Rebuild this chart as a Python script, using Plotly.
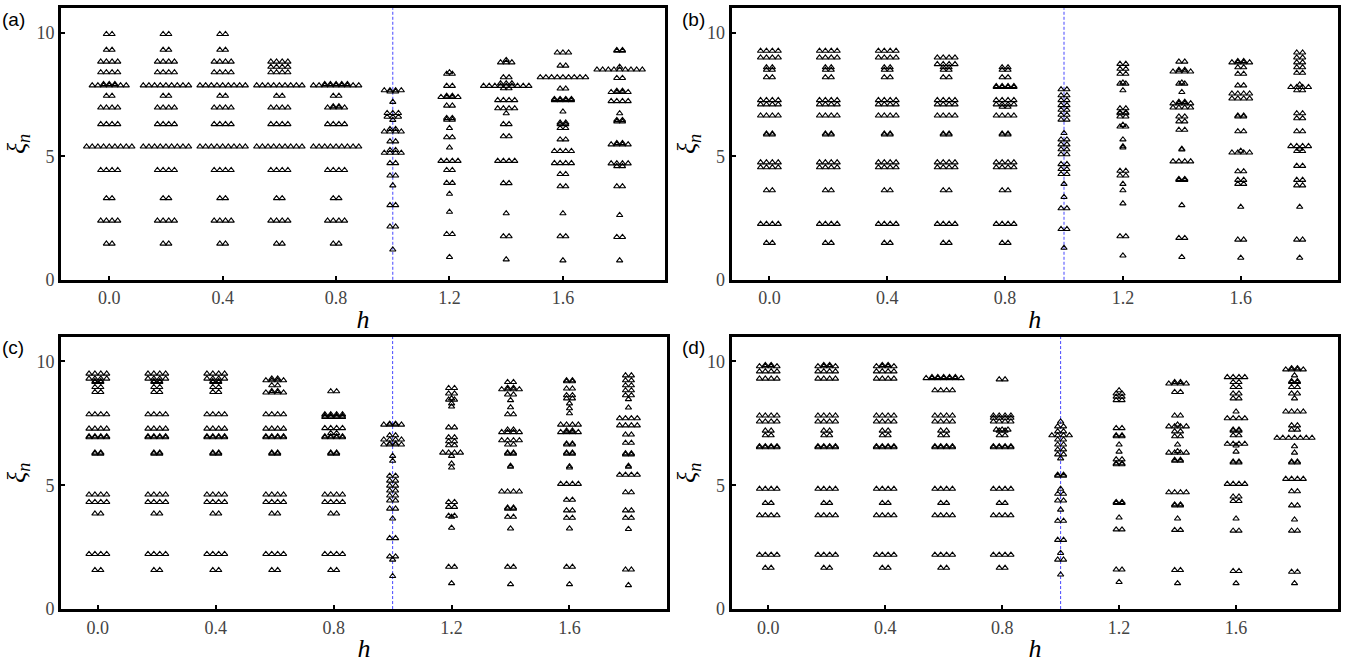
import plotly.graph_objects as go

H = [0.0, 0.2, 0.4, 0.6, 0.8, 1.0, 1.2, 1.4, 1.6, 1.8]
XTICKS = [0.0, 0.4, 0.8, 1.2, 1.6]
XTICK_TEXT = ["0.0", "0.4", "0.8", "1.2", "1.6"]
YTICKS = [0, 5, 10]
YTICK_TEXT = ["0", "5", "10"]
H_CRIT = 1.0
DX = 0.02  # horizontal spread between degenerate levels

# ---------------- panel (a) ----------------
LEV_A = [
    [9.95, 9.31, 8.83, 8.40, 7.87, 7.92, 7.45, 6.97, 6.30, 5.39, 4.44, 3.30, 2.39, 1.46],
    [9.95, 9.31, 8.83, 8.40, 7.87, 7.45, 6.97, 6.30, 5.39, 4.44, 3.30, 2.39, 1.46],
    [9.95, 9.31, 8.83, 8.40, 7.87, 7.45, 6.97, 6.30, 5.39, 4.44, 3.30, 2.39, 1.46],
    [8.83, 8.62, 8.40, 7.87, 7.45, 6.97, 6.30, 5.39, 4.44, 3.30, 2.39, 1.46],
    [7.87, 7.92, 7.45, 6.97, 7.02, 6.30, 5.39, 4.44, 3.30, 2.39, 1.46],
    [7.67, 7.62, 7.20, 6.75, 6.60, 6.47, 6.00, 6.10, 5.60, 5.14, 5.25, 4.72, 4.22, 3.82, 3.02, 2.15, 1.22],
    [8.34, 8.40, 7.85, 7.40, 7.45, 7.05, 6.48, 6.55, 6.14, 5.77, 5.35, 4.81, 4.44, 3.92, 3.48, 2.75, 1.85, 0.92],
    [8.80, 8.90, 8.20, 7.85, 7.95, 7.75, 7.27, 6.94, 6.74, 6.30, 5.81, 4.81, 3.91, 2.69, 1.76, 0.82],
    [9.20, 8.67, 8.20, 7.74, 7.27, 7.32, 6.81, 6.30, 6.36, 6.14, 5.68, 5.21, 4.72, 4.28, 3.78, 2.69, 1.76, 0.78],
    [9.27, 9.30, 8.51, 8.62, 8.17, 7.60, 7.65, 7.23, 6.74, 6.41, 6.47, 5.48, 5.53, 4.71, 4.60, 3.78, 2.62, 1.73, 0.78],
]
DEG_A = [
    [2, 2, 4, 4, 7, 3, 2, 4, 4, 9, 4, 2, 4, 2],
    [2, 2, 4, 4, 9, 2, 4, 4, 9, 4, 2, 4, 2],
    [2, 2, 4, 4, 9, 2, 4, 4, 9, 4, 2, 4, 2],
    [4, 4, 4, 9, 2, 4, 4, 9, 4, 2, 4, 2],
    [9, 5, 2, 4, 2, 4, 9, 4, 2, 4, 2],
    [4, 2, 1, 3, 3, 1, 4, 2, 2, 4, 2, 2, 2, 1, 2, 2, 1],
    [2, 1, 2, 4, 2, 2, 2, 2, 1, 2, 1, 4, 2, 2, 1, 1, 2, 1],
    [3, 1, 2, 9, 3, 2, 4, 4, 1, 2, 2, 4, 2, 1, 2, 1],
    [3, 2, 9, 2, 4, 4, 1, 2, 2, 2, 2, 4, 4, 2, 2, 1, 2, 1],
    [2, 2, 9, 1, 2, 4, 2, 4, 1, 2, 2, 4, 2, 4, 2, 2, 1, 2, 1],
]

# ---------------- panel (b) ----------------
_B0 = [9.27, 9.00, 8.60, 8.50, 8.20, 7.27, 7.10, 6.65, 5.88, 5.92, 4.75, 4.55, 3.62, 2.26, 1.49]
_B0D = [4, 4, 2, 2, 2, 4, 4, 4, 2, 2, 4, 4, 2, 4, 2]
LEV_B = [
    _B0, _B0, _B0,
    [9.00, 8.73, 8.60, 8.50, 8.20, 7.27, 7.10, 6.65, 5.88, 5.92, 4.75, 4.55, 3.62, 2.26, 1.49],
    [8.60, 8.50, 8.20, 7.80, 7.84, 7.27, 7.10, 7.00, 6.65, 5.88, 5.92, 4.75, 4.55, 3.62, 2.26, 1.49],
    [7.71, 7.47, 7.27, 7.07, 6.88, 6.68, 6.48, 5.94, 5.68, 5.48, 5.28, 5.08, 4.68, 4.48, 4.28, 3.88, 3.35, 2.89, 2.05, 1.29],
    [8.74, 8.54, 8.34, 7.94, 7.98, 7.67, 6.94, 6.74, 6.78, 6.61, 6.20, 6.27, 5.68, 5.35, 5.40, 4.41, 4.22, 3.88, 3.62, 3.09, 1.76, 0.98],
    [8.83, 8.43, 8.50, 7.94, 7.98, 7.60, 7.14, 7.20, 6.97, 6.61, 6.41, 6.07, 5.27, 5.30, 4.79, 4.04, 4.08, 3.02, 1.69, 0.92],
    [8.80, 8.85, 8.60, 8.34, 7.87, 7.54, 7.34, 6.61, 6.65, 6.01, 5.15, 5.22, 4.39, 4.04, 3.88, 2.95, 1.62, 0.89],
    [9.20, 9.00, 8.80, 8.60, 8.38, 7.80, 7.90, 7.67, 6.74, 6.54, 6.01, 5.41, 5.21, 5.30, 4.61, 4.04, 3.82, 2.95, 1.62, 0.89],
]
DEG_B = [
    _B0D, _B0D, _B0D,
    [4, 4, 2, 2, 2, 4, 4, 4, 2, 2, 4, 4, 2, 4, 2],
    [2, 2, 2, 4, 4, 4, 4, 2, 4, 2, 2, 4, 4, 2, 4, 2],
    [2, 2, 2, 2, 2, 2, 2, 1, 2, 2, 2, 2, 2, 2, 2, 1, 1, 2, 2, 1],
    [2, 2, 2, 2, 1, 1, 2, 2, 2, 2, 2, 1, 1, 1, 1, 2, 2, 1, 1, 1, 2, 1],
    [2, 4, 2, 2, 1, 1, 4, 2, 4, 2, 2, 2, 1, 1, 4, 2, 2, 1, 2, 1],
    [4, 2, 2, 2, 2, 4, 4, 2, 2, 2, 4, 1, 2, 2, 2, 1, 2, 1],
    [2, 2, 2, 2, 2, 4, 1, 2, 2, 2, 2, 4, 2, 1, 2, 2, 2, 1, 2, 1],
]

# ---------------- panel (c) ----------------
_C0 = [9.50, 9.30, 9.16, 9.20, 8.96, 8.76, 7.86, 7.28, 6.93, 6.97, 6.27, 6.31, 4.62, 4.32, 3.85, 2.22, 1.57]
_C0D = [4, 4, 2, 2, 2, 2, 4, 4, 4, 4, 2, 2, 4, 4, 2, 4, 2]
LEV_C = [
    _C0, _C0, _C0,
    [9.23, 9.30, 9.03, 8.74, 8.80, 7.86, 7.28, 6.93, 6.97, 6.27, 6.31, 4.62, 4.32, 3.85, 2.22, 1.57],
    [8.79, 7.86, 7.75, 7.80, 7.30, 7.10, 6.93, 6.97, 6.27, 6.31, 4.62, 4.32, 3.85, 2.22, 1.57],
    [7.44, 7.48, 7.01, 6.84, 6.64, 6.68, 6.18, 5.98, 5.38, 5.18, 4.98, 4.78, 4.58, 4.38, 4.05, 3.65, 2.86, 2.12, 1.99, 1.33],
    [8.92, 8.70, 8.50, 8.45, 8.30, 8.17, 7.33, 6.93, 6.77, 6.61, 6.31, 6.18, 5.87, 5.71, 4.32, 4.12, 3.76, 3.72, 3.28, 1.70, 1.04],
    [9.16, 8.87, 8.93, 8.66, 8.43, 8.14, 7.86, 7.24, 7.14, 6.81, 6.64, 6.27, 6.31, 5.74, 5.78, 4.74, 4.05, 4.09, 3.72, 3.25, 1.70, 1.00],
    [9.19, 9.23, 8.90, 8.63, 8.50, 8.30, 8.10, 7.90, 7.44, 7.14, 7.20, 6.64, 6.68, 6.27, 6.31, 5.71, 5.76, 5.05, 4.41, 3.98, 3.68, 3.25, 1.70, 1.00],
    [9.43, 9.23, 9.03, 8.83, 8.63, 8.47, 8.13, 7.70, 7.41, 7.04, 6.71, 6.24, 6.28, 5.74, 5.78, 5.42, 4.71, 3.98, 3.68, 3.23, 1.59, 0.96],
]
DEG_C = [
    _C0D, _C0D, _C0D,
    [4, 2, 2, 4, 2, 4, 4, 4, 4, 2, 2, 4, 4, 2, 4, 2],
    [2, 4, 4, 4, 4, 2, 4, 4, 2, 2, 4, 4, 2, 4, 2],
    [4, 2, 2, 4, 4, 2, 1, 1, 2, 2, 2, 2, 2, 2, 2, 1, 2, 2, 1, 1],
    [2, 2, 1, 2, 1, 1, 2, 2, 2, 2, 4, 1, 1, 1, 2, 2, 2, 1, 1, 2, 1],
    [2, 4, 2, 2, 1, 1, 2, 2, 4, 4, 2, 2, 2, 1, 1, 4, 2, 2, 2, 1, 2, 1],
    [2, 2, 2, 2, 2, 1, 1, 1, 4, 4, 2, 2, 2, 2, 2, 1, 1, 4, 2, 2, 2, 1, 2, 1],
    [2, 2, 2, 2, 2, 1, 1, 4, 4, 2, 2, 2, 2, 1, 1, 4, 2, 2, 2, 1, 2, 1],
]

# ---------------- panel (d) ----------------
_D0 = [9.80, 9.85, 9.59, 9.30, 7.81, 7.57, 7.20, 7.01, 6.53, 6.57, 4.85, 4.28, 3.78, 2.19, 1.66]
_D0D = [4, 2, 4, 4, 4, 4, 2, 2, 4, 4, 4, 2, 4, 4, 2]
LEV_D = [
    _D0, _D0, _D0,
    [9.32, 9.36, 8.83, 7.81, 7.57, 7.20, 7.01, 6.53, 6.57, 4.85, 4.28, 3.78, 2.19, 1.66],
    [9.27, 7.81, 7.72, 7.57, 7.20, 7.24, 7.01, 6.53, 6.57, 4.85, 4.28, 3.78, 2.19, 1.66],
    [7.57, 7.37, 7.17, 7.01, 6.84, 6.64, 6.44, 6.24, 6.08, 5.38, 5.42, 4.85, 4.65, 4.38, 4.01, 3.56, 2.79, 2.26, 1.99, 1.39],
    [8.83, 8.70, 8.57, 8.43, 7.30, 6.97, 7.01, 6.64, 6.35, 6.04, 5.84, 5.88, 4.28, 4.32, 3.69, 3.21, 1.59, 1.09],
    [9.10, 9.16, 8.76, 7.81, 7.37, 7.44, 7.17, 6.97, 6.64, 6.31, 6.37, 5.98, 6.02, 4.71, 4.18, 4.22, 3.65, 3.19, 1.57, 1.04],
    [9.36, 9.16, 8.96, 8.70, 8.50, 7.97, 7.70, 7.20, 7.24, 7.01, 6.67, 6.60, 6.35, 5.91, 5.95, 5.05, 4.54, 4.36, 3.65, 3.16, 1.53, 1.04],
    [9.67, 9.72, 9.43, 9.16, 9.20, 8.96, 8.70, 8.50, 7.97, 7.41, 7.24, 6.91, 6.57, 6.31, 5.91, 5.95, 5.25, 4.75, 4.18, 3.61, 3.16, 1.50, 1.04],
]
DEG_D = [
    _D0D, _D0D, _D0D,
    [7, 5, 4, 4, 4, 2, 2, 4, 4, 4, 2, 4, 4, 2],
    [2, 4, 4, 4, 2, 3, 2, 4, 4, 4, 2, 4, 4, 2],
    [1, 2, 2, 4, 2, 2, 2, 2, 1, 2, 2, 1, 2, 2, 1, 2, 2, 1, 2, 1],
    [1, 2, 2, 2, 2, 2, 2, 1, 1, 2, 2, 2, 2, 2, 1, 2, 2, 1],
    [4, 2, 2, 2, 4, 1, 2, 2, 1, 4, 1, 2, 2, 4, 2, 2, 1, 2, 2, 1],
    [4, 2, 2, 2, 2, 1, 4, 2, 2, 2, 4, 1, 1, 2, 2, 4, 2, 2, 1, 2, 2, 1],
    [4, 2, 1, 2, 2, 2, 2, 1, 4, 2, 2, 7, 1, 1, 2, 2, 4, 2, 2, 1, 2, 2, 1],
]

PANELS = [
    ("(a)", LEV_A, DEG_A, [-0.17, 1.96]),
    ("(b)", LEV_B, DEG_B, [-0.128, 1.93]),
    ("(c)", LEV_C, DEG_C, [-0.125, 1.93]),
    ("(d)", LEV_D, DEG_D, [-0.125, 1.95]),
]

# layout geometry (paper fractions)
XDOM = [[0.0453, 0.4937], [0.5432, 0.9933], [0.0453, 0.4950], [0.5432, 0.9936]]
YDOM = [[0.5761, 0.9876], [0.5761, 0.9876], [0.0772, 0.4900], [0.0772, 0.4900]]

fig = go.Figure()

for k, (label, levs, degs, xr) in enumerate(PANELS):
    xs, ys = [], []
    for h, lv, dg in zip(H, levs, degs):
        for val, n in zip(lv, dg):
            for i in range(n):
                xs.append(h + (i - (n - 1) / 2.0) * DX)
                ys.append(val)
    ax = "" if k == 0 else str(k + 1)
    fig.add_trace(go.Scatter(
        x=xs, y=ys, mode="markers", xaxis="x" + ax, yaxis="y" + ax,
        marker=dict(symbol="triangle-up-open", size=5.5, color="black",
                    line=dict(width=1.1, color="black")),
        showlegend=False, hoverinfo="x+y",
    ))
    axis_common = dict(
        showline=True, linewidth=3, linecolor="black", mirror=True,
        ticks="inside", ticklen=4, tickwidth=2, tickcolor="black",
        showgrid=False, zeroline=False,
        tickfont=dict(family="Liberation Serif, serif", size=18, color="#444"),
    )
    fig.layout["xaxis" + ax] = dict(
        domain=XDOM[k], range=xr, anchor="y" + ax,
        tickvals=XTICKS, ticktext=XTICK_TEXT,
        title=dict(text="h", standoff=3,
                   font=dict(family="Liberation Serif, serif", size=26, color="black",
                             style="italic")),
        **axis_common,
    )
    fig.layout["yaxis" + ax] = dict(
        domain=YDOM[k], range=[0, 11], anchor="x" + ax,
        tickvals=YTICKS, ticktext=YTICK_TEXT,
        title=dict(text="ξ<sub>n</sub>", standoff=4,
                   font=dict(family="Liberation Serif, serif", size=26, color="black",
                             style="italic")),
        **axis_common,
    )
    fig.add_shape(type="line", xref="x" + ax, yref="y" + ax + " domain",
                  x0=H_CRIT, x1=H_CRIT, y0=0, y1=1, layer="below",
                  line=dict(color="rgb(70,70,255)", width=1, dash="3px,2px"))
    fig.add_annotation(text=label, xref="paper", yref="paper",
                       x=XDOM[k][0] - (0.0453 if k % 2 == 0 else 0.0385),
                       y=YDOM[k][1] + 0.002, xanchor="left", yanchor="top",
                       showarrow=False,
                       font=dict(family="Liberation Sans, Arial, sans-serif", size=19, color="black"))

fig.update_layout(
    width=1347, height=670, margin=dict(l=0, r=0, t=0, b=0),
    paper_bgcolor="white", plot_bgcolor="white",
)

fig.write_html("out.html")
